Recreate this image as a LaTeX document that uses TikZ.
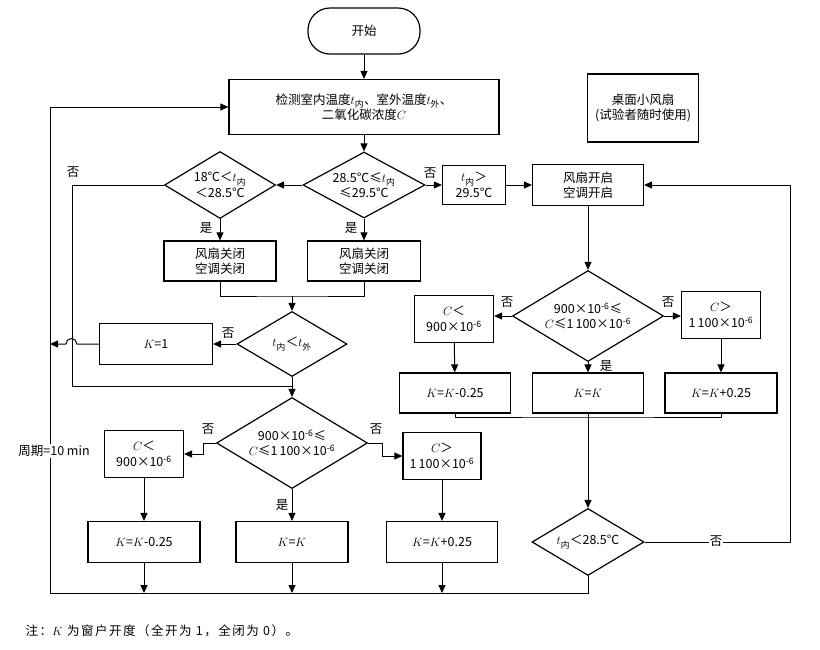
\documentclass[tikz,border=0pt]{standalone}
\usepackage{fontspec}
\setmainfont{Noto Sans CJK SC}
\usetikzlibrary{positioning,shapes.geometric,arrows.meta}

\newcommand{\tin}{$t$\textsubscript{内}}
\newcommand{\tout}{$t$\textsubscript{外}}
\newcommand{\ppm}{10\textsuperscript{-6}}

\tikzset{
  box/.style={draw,line width=1.2pt,align=center,inner sep=1pt},
  cond/.style={draw,diamond,aspect=1.7,inner sep=0pt,line width=1.2pt,align=center},
  arr/.style={line width=1pt,-{Triangle[length=8pt,width=7pt]}},
  ln/.style={line width=1pt},
  lbl/.style={inner sep=1pt}
}

\begin{document}
\begin{tikzpicture}[x=1pt,y=-1pt,font=\fontsize{12.5}{15.5}\selectfont]
\useasboundingbox (0,0) rectangle (820,649);

%-------------------Top-----------------%
\node[box,rounded corners=22pt,minimum width=112,minimum height=46] (start) at (364,31) {开始};
\node[box,minimum width=270,minimum height=55] (measure) at (364,107) {检测室内温度\tin、室外温度\tout、\\二氧化碳浓度$C$};
\node[box,minimum width=111,minimum height=68] (deskfan) at (643,108) {桌面小风扇\\(试验者随时使用)};

%-------------------Temperature-----------------%
\node[cond,aspect=1.85,minimum width=122,minimum height=66] (dmid) at (364,185) {28.5℃≤\tin\\≤29.5℃};
\node[cond,aspect=1.66,minimum width=111,minimum height=67] (dlow) at (220,185) {18℃＜\tin\\＜28.5℃};
\node[box,minimum width=63,minimum height=39] (hot) at (474,185) {\tin＞\\29.5℃};
\node[box,minimum width=111,minimum height=41] (on) at (588,185) {风扇开启\\空调开启};
\node[box,minimum width=112,minimum height=40] (offA) at (220,261) {风扇关闭\\空调关闭};
\node[box,minimum width=113,minimum height=40] (offB) at (364,261) {风扇关闭\\空调关闭};
\node[cond,minimum width=110,minimum height=65] (dio) at (292,344) {\tin＜\tout};
\node[box,minimum width=113,minimum height=41] (kone) at (156,344) {$K$=1};

%-------------------CO2 left-----------------%
\node[cond,aspect=1.66,minimum width=151,minimum height=91] (dco) at (292,443) {900×\ppm≤\\$C$≤1\,100×\ppm};
\node[box,minimum width=79,minimum height=47] (clow) at (144,454) {$C$＜\\900×\ppm};
\node[box,minimum width=78,minimum height=47] (chigh) at (442,456) {$C$＞\\1\,100×\ppm};
\node[box,minimum width=112,minimum height=41] (kdec) at (144,542) {$K$=$K$-0.25};
\node[box,minimum width=112,minimum height=41] (keep) at (292,542) {$K$=$K$};
\node[box,minimum width=111,minimum height=41] (kinc) at (442,542) {$K$=$K$+0.25};

%-------------------CO2 right-----------------%
\node[cond,aspect=1.66,minimum width=151,minimum height=91] (dcoR) at (588,316) {900×\ppm≤\\$C$≤1\,100×\ppm};
\node[box,minimum width=79,minimum height=47] (clowR) at (454,319) {$C$＜\\900×\ppm};
\node[box,minimum width=79,minimum height=47] (chighR) at (721,315) {$C$＞\\1\,100×\ppm};
\node[box,minimum width=111,minimum height=40] (kdecR) at (455,393) {$K$=$K$-0.25};
\node[box,minimum width=111,minimum height=40] (keepR) at (588,393) {$K$=$K$};
\node[box,minimum width=112,minimum height=40] (kincR) at (721,393) {$K$=$K$+0.25};
\node[cond,minimum width=112,minimum height=67] (dend) at (588,542) {\tin＜28.5℃};

\coordinate (mergeA) at (292,296);
\coordinate (backA) at (72,386);
\coordinate (loopB) at (50,593);
\coordinate (mergeR) at (588,417);
\coordinate (loopR) at (790,185);

%-------------------Connectors-----------------%
\draw[arr] (start) -- (measure);
\draw[arr] (measure) -- (dmid);
\draw[arr] (dmid) -- (dlow);
\draw[arr] (dmid) -- (hot);
\draw[arr] (hot) -- (on);
\draw[arr] (dlow) -- (offA);
\draw[arr] (dmid) -- (offB);
\draw[ln] (offA.south) |- (mergeA) -| (offB.south);
\draw[arr] (mergeA) -- (dio);
\draw[ln] (dlow.west) -| (backA) -- (backA -| dio.south);
\draw[arr] (dio) -- (dco);
\draw[arr] (dio) -- (kone);
\draw[arr] (kone.west) -- ++(-22,0) arc (0:-180:5.5) -- (loopB |- kone.west);
\draw[arr] (dend.south) |- (loopB) |- (measure.west);

\draw[arr] (dco.west) -- ++(-12,0) |- (clow.east);
\draw[arr] (dco.east) -- ++(14,0) |- (chigh.west);
\draw[arr] (clow) -- (kdec);
\draw[arr] (dco) -- (keep);
\draw[arr] (chigh) -- (kinc);
\draw[arr] (kdec.south) -- (kdec.south |- loopB);
\draw[arr] (keep.south) -- (keep.south |- loopB);
\draw[arr] (kinc.south) -- (kinc.south |- loopB);

\draw[arr] (on) -- (dcoR);
\draw[arr] (dcoR.west) -- (dcoR.west -| clowR.east);
\draw[arr] (dcoR.east) -- (dcoR.east -| chighR.west);
\draw[arr] (clowR) -- (kdecR);
\draw[arr] (dcoR) -- (keepR);
\draw[arr] (chighR) -- (kincR);
\draw[ln] (kdecR.south) |- (mergeR) -| (kincR.south);
\draw[arr] (keepR) -- (dend);
\draw[arr] (dend.east) -| (loopR) -- (on.east);

%-------------------Labels-----------------%
\node[lbl] (noA) at (73,172) {否};
\node[lbl] (yesA) at (206,228) {是};
\node[lbl] (yesB) at (351,228) {是};
\node[lbl] (noB) at (430,173) {否};
\node[lbl] (noC) at (228,333) {否};
\node[lbl] (noD) at (208,429) {否};
\node[lbl] (noE) at (376,429) {否};
\node[lbl] (yesC) at (282,505) {是};
\node[lbl] (noF) at (507,302) {否};
\node[lbl] (noG) at (668,302) {否};
\node[lbl] (yesD) at (606,366) {是};
\node[lbl,fill=white] (noH) at (716,541) {否};
\node[lbl,fill=white] (period) at (54,451) {周期=10 min};
\node[anchor=west] (note) at (22,631) {\addfontfeature{LetterSpace=12}注：$K$ 为窗户开度（全开为 1，全闭为 0）。};
\end{tikzpicture}
\end{document}
